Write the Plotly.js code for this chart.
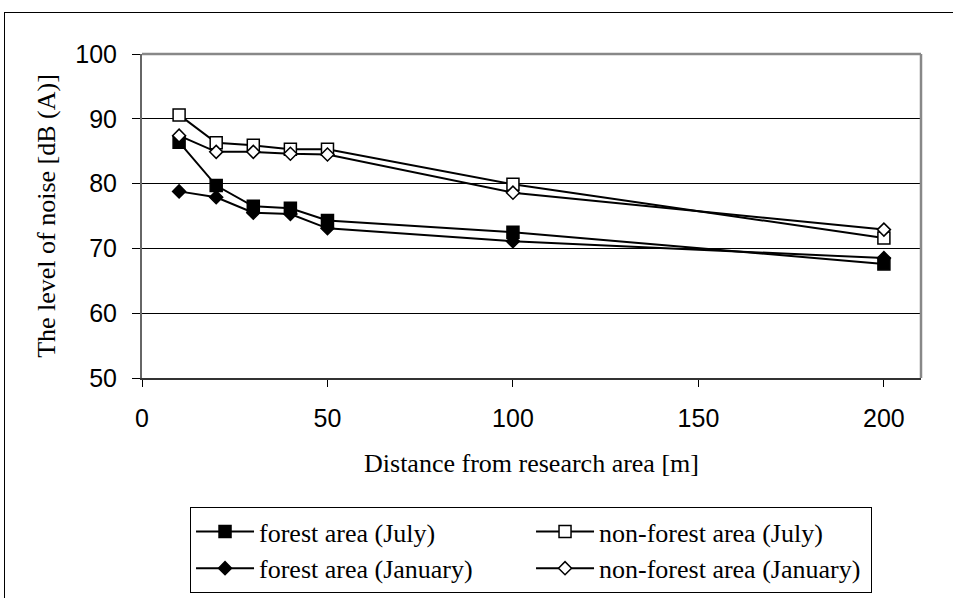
<!DOCTYPE html>
<html>
<head>
<meta charset="utf-8">
<script src="https://cdn.plot.ly/plotly-3.0.1.min.js"></script>
<style>
html,body{margin:0;padding:0;background:#fff;overflow:hidden;}
#chart{position:absolute;left:0;top:0;width:953px;height:598px;}
#frame{position:absolute;left:4px;top:12px;width:1000px;height:700px;border-left:1px solid #000;border-top:1px solid #000;pointer-events:none;z-index:10;}
</style>
</head>
<body>
<div id="chart"></div>
<div id="frame"></div>
<script>
const distance = [10, 20, 30, 40, 50, 100, 200];
const forestJuly = [86.4, 79.7, 76.5, 76.2, 74.3, 72.5, 67.6];
const nonForestJuly = [90.6, 86.3, 85.9, 85.3, 85.3, 79.9, 71.6];
const forestJanuary = [78.8, 77.9, 75.5, 75.3, 73.1, 71.1, 68.5];
const nonForestJanuary = [87.4, 84.9, 84.9, 84.6, 84.5, 78.6, 72.9];
const seriesNames = ['forest area (July)', 'non-forest area (July)', 'forest area (January)', 'non-forest area (January)'];
const xTicks = [0, 50, 100, 150, 200];
const yTicks = [50, 60, 70, 80, 90, 100];

const serif = 'Liberation Serif, Times New Roman, serif';
const sans = 'Liberation Sans, Arial, sans-serif';

function mk(y, name, symbol, fill, size) {
  return {
    x: distance, y: y, name: name, type: 'scatter', mode: 'lines+markers',
    line: {color: '#000', width: 2},
    marker: {symbol: symbol, size: size, color: fill, line: {color: '#000', width: 1.5}}
  };
}

const data = [
  mk(forestJuly, seriesNames[0], 'square', '#000', 12),
  mk(nonForestJuly, seriesNames[1], 'square', '#fff', 12),
  mk(forestJanuary, seriesNames[2], 'diamond', '#000', 10),
  mk(nonForestJanuary, seriesNames[3], 'diamond', '#fff', 10)
];

const layout = {
  width: 953, height: 598,
  margin: {l: 142, r: 32, t: 54, b: 220},
  paper_bgcolor: '#fff', plot_bgcolor: '#fff',
  showlegend: true,
  xaxis: {
    range: [0, 210], tickvals: xTicks, ticktext: xTicks.map(String),
    ticks: 'outside', ticklen: 7, tickcolor: '#000', tickwidth: 1,
    ticklabelstandoff: 10,
    showgrid: false, zeroline: false,
    showline: true, linecolor: '#333', linewidth: 2,
    tickfont: {family: sans, size: 25, color: '#000'},
    title: {text: 'Distance from research area [m]', font: {family: serif, size: 26, color: '#000'}, standoff: 23},
    automargin: false
  },
  yaxis: {
    range: [50, 100], tickvals: yTicks, ticktext: yTicks.map(String),
    ticks: 'outside', ticklen: 8, tickcolor: '#000', tickwidth: 1,
    ticklabelstandoff: 10,
    showgrid: true, gridcolor: '#000', gridwidth: 1, zeroline: false,
    showline: true, linecolor: '#666', linewidth: 2,
    tickfont: {family: sans, size: 25, color: '#000'},
    title: {text: 'The level of noise [dB (A)]', font: {family: serif, size: 26, color: '#000'}, standoff: 12},
    automargin: false
  },
  shapes: [
    {type: 'line', xref: 'paper', yref: 'paper', x0: 0, x1: 1, y0: 1, y1: 1, line: {color: '#888', width: 2.5}},
    {type: 'line', xref: 'paper', yref: 'paper', x0: 1, x1: 1, y0: 0, y1: 1, line: {color: '#888', width: 2.5}}
  ],
  legend: {
    orientation: 'h', xref: 'container', yref: 'container',
    x: 0.1994, y: 0.1522, xanchor: 'left', yanchor: 'top',
    entrywidth: 267, entrywidthmode: 'pixels', itemwidth: 58,
    bordercolor: '#000', borderwidth: 1, bgcolor: '#fff',
    font: {family: serif, size: 26, color: '#000'},
    tracegroupgap: 0
  }
};

Plotly.newPlot('chart', data, layout, {displayModeBar: false, staticPlot: true});
</script>
</body>
</html>
